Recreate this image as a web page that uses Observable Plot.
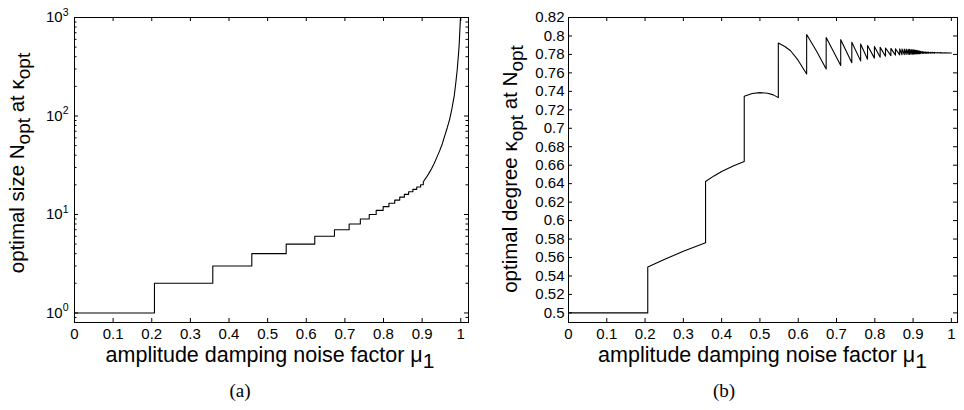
<!DOCTYPE html>
<html>
<head>
<meta charset="utf-8">
<script src="https://cdn.jsdelivr.net/npm/d3@7"></script>
<script src="https://cdn.jsdelivr.net/npm/@observablehq/plot@0.6"></script>
<style>
  html, body { margin: 0; padding: 0; background: #fff; }
  #wrap { position: relative; width: 964px; height: 410px; font-family: "Liberation Sans", Arial, sans-serif; }
  .panel { position: absolute; top: 0; width: 482px; height: 372px; }
  .cap { position: absolute; top: 381px; width: 482px; text-align: center; font-family: "Liberation Serif", "DejaVu Serif", serif; font-size: 19px; line-height: 19px; color: #000; }
</style>
</head>
<body>
<div id="wrap">
  <div class="panel" id="pa" style="left:0px"></div>
  <div class="panel" id="pb" style="left:482px"></div>
  <div class="cap" style="left:-1px">(a)</div>
  <div class="cap" style="left:483px">(b)</div>
</div>
<script>
// ---------- data ----------
const xTicks = [0, 0.1, 0.2, 0.3, 0.4, 0.5, 0.6, 0.7, 0.8, 0.9, 1];

// (a) optimal size N_opt : step levels and the mu where each level begins
const stepMu = [0, 0.207, 0.358, 0.459, 0.548, 0.622, 0.673, 0.711, 0.740, 0.763, 0.781, 0.799, 0.814, 0.829, 0.842, 0.854, 0.865, 0.876, 0.886, 0.896];
const stepN  = [1, 2, 3, 4, 5, 6, 7, 8, 9, 10, 11, 12, 13, 14, 15, 16, 17, 18, 19, 20];
// smooth tail of (a)
const tailMu = [0.903, 0.910, 0.917, 0.924, 0.931, 0.938, 0.945, 0.952, 0.958, 0.965, 0.971, 0.977, 0.983, 0.987, 0.991, 0.994, 0.996, 0.998, 0.9993];
const tailN  = [21.5, 23.5, 26, 29, 33, 38, 44, 52, 62, 76, 92, 118, 160, 215, 300, 420, 540, 800, 1000];
const logMajor = [1, 10, 100, 1000];
const logMajorExp = ["0", "1", "2", "3"];
const logMinor = [0.9, 2, 3, 4, 5, 6, 7, 8, 9, 20, 30, 40, 50, 60, 70, 80, 90, 200, 300, 400, 500, 600, 700, 800, 900];

// (b) optimal degree kappa_opt
const kMu = [
  0, 0.207, 0.207, 0.25, 0.30, 0.358, 0.358, 0.38, 0.40, 0.43, 0.459, 0.459, 0.48, 0.50, 0.52, 0.535, 0.548,
  0.548, 0.565, 0.58, 0.60, 0.622, 0.622, 0.648, 0.673, 0.673, 0.711, 0.711, 0.740, 0.740, 0.763, 0.763, 0.781,
  0.781, 0.799, 0.799, 0.814, 0.814, 0.828, 0.828, 0.842, 0.842, 0.854, 0.854, 0.865, 0.865,
  0.871, 0.871, 0.877, 0.877, 0.882, 0.882, 0.887, 0.887, 0.891, 0.891, 0.895, 0.895, 0.899, 0.899,
  0.902, 0.902, 0.905, 0.905, 0.908, 0.908, 0.911, 0.911, 0.914, 0.914, 0.917, 0.917, 0.920, 0.920,
  0.924, 0.924, 0.928, 0.928, 0.932, 0.932, 0.936, 0.936, 0.940, 0.940, 0.945, 0.945, 0.950, 0.950,
  0.956, 0.956, 0.963, 0.963, 0.970, 0.970, 0.980, 0.980, 1.0
];
const kVal = [
  0.5, 0.5, 0.5497, 0.5578, 0.5668, 0.576, 0.6424, 0.6484, 0.6532, 0.6592, 0.664, 0.7346, 0.7376, 0.7386, 0.7380, 0.7362, 0.7332,
  0.7923, 0.7886, 0.784, 0.7735, 0.7588, 0.8015, 0.7835, 0.7642, 0.7984, 0.768, 0.7960, 0.7710, 0.7932, 0.7730, 0.7912, 0.7748,
  0.7897, 0.7760, 0.7886, 0.7770, 0.7876, 0.7780, 0.7870, 0.7787, 0.7865, 0.7792, 0.7862, 0.7795, 0.7860,
  0.7797, 0.7859, 0.7798, 0.7858, 0.7799, 0.7857, 0.7800, 0.7856, 0.7800, 0.7855, 0.7801, 0.7853, 0.7802, 0.7851,
  0.7803, 0.7849, 0.7804, 0.7847, 0.7805, 0.7845, 0.7806, 0.7842, 0.7807, 0.7839, 0.7808, 0.7836, 0.7809, 0.7833,
  0.7810, 0.7831, 0.7811, 0.7829, 0.7812, 0.7827, 0.7812, 0.7826, 0.7813, 0.7825, 0.7813, 0.7823, 0.7814, 0.7822,
  0.7814, 0.7821, 0.7815, 0.7820, 0.7815, 0.7819, 0.7816, 0.7818, 0.7816
];
const kTicks = [0.5, 0.52, 0.54, 0.56, 0.58, 0.6, 0.62, 0.64, 0.66, 0.68, 0.7, 0.72, 0.74, 0.76, 0.78, 0.8, 0.82];

// ---------- build tables ----------
const nPts = [];
for (let i = 0; i < stepMu.length; i++) {
  const next = i + 1 < stepMu.length ? stepMu[i + 1] : tailMu[0];
  nPts.push({mu: stepMu[i], v: stepN[i]});
  nPts.push({mu: next, v: stepN[i]});
}
tailMu.forEach((m, i) => nPts.push({mu: m, v: tailN[i]}));
const kPts = kMu.map((m, i) => ({mu: m, v: kVal[i]}));

const FONT = "'Liberation Sans', Arial, Helvetica, sans-serif";
const W = 482, H = 372, MT = 17, MB = 50;
const fmt = d => String(+(+d).toFixed(2));

function frameTicks(xs, ys, yMinor, fh, fw) {
  const MAJ = 4, MIN = 2.5;
  const out = [
    Plot.tickX(xs, {x: d => d, insetTop: fh - MAJ, stroke: "black"}),
    Plot.tickX(xs, {x: d => d, insetBottom: fh - MAJ, stroke: "black"}),
    Plot.tickY(ys, {y: d => d, insetRight: fw - MAJ, stroke: "black"}),
    Plot.tickY(ys, {y: d => d, insetLeft: fw - MAJ, stroke: "black"})
  ];
  if (yMinor) {
    out.push(Plot.tickY(yMinor, {y: d => d, insetRight: fw - MIN, stroke: "black"}));
    out.push(Plot.tickY(yMinor, {y: d => d, insetLeft: fw - MIN, stroke: "black"}));
  }
  return out;
}

function richText(svg, x, y, rot, parts, fs, sfs, shift) {
  const t = d3.select(svg).append("text")
    .attr("transform", `translate(${x},${y}) rotate(${rot})`)
    .attr("text-anchor", "middle")
    .attr("font-family", FONT)
    .attr("font-size", fs)
    .attr("fill", "black")
    .style("white-space", "pre");
  let cur = 0;
  for (const p of parts) {
    const isSub = typeof p !== "string";
    const txt = isSub ? p.sub : p;
    const target = isSub ? shift : 0;
    t.append("tspan").attr("dy", target - cur).attr("font-size", isSub ? sfs : fs).text(txt);
    cur = target;
  }
}

// ---------- panel (a) ----------
const aML = 74, aMR = 14;
const aFW = W - aML - aMR, aFH = H - MT - MB;
const svgA = Plot.plot({
  width: W, height: H,
  marginLeft: aML, marginRight: aMR, marginTop: MT, marginBottom: MB,
  x: {domain: [0, 1.02]},
  y: {type: "log", domain: [0.8, 1000]},
  style: {fontFamily: FONT, fontSize: "15px", color: "black", background: "white"},
  marks: [
    Plot.line(nPts, {x: "mu", y: "v", stroke: "black", strokeWidth: 1.1, clip: true}),
    ...frameTicks(xTicks, logMajor, logMinor, aFH, aFW),
    Plot.frame({stroke: "black", strokeWidth: 1}),
    Plot.axisX({ticks: xTicks, tickSize: 0, tickPadding: 6, tickFormat: fmt, label: null}),
    Plot.axisY({ticks: logMajor, tickSize: 0, tickPadding: 6, label: null,
      tickFormat: d => "10^" + logMajorExp[logMajor.indexOf(d)]})
  ]
});
d3.select(svgA).selectAll('g[aria-label="y-axis tick label"] text').each(function () {
  const [b, e] = this.textContent.split("^");
  const s = d3.select(this);
  s.text(b);
  s.append("tspan").attr("dy", "-0.6em").attr("font-size", "10.5px").text(e);
});
richText(svgA, aML + aFW / 2 - 1, 362, 0, ["amplitude damping noise factor μ", {sub: "1"}], 21.5, 21, 6);
richText(svgA, 24, 163, -90, ["optimal size N", {sub: "opt"}, " at κ", {sub: "opt"}], 20.5, 19, 6);
document.getElementById("pa").appendChild(svgA);

// ---------- panel (b) ----------
const bML = 86, bMR = 7;
const bFW = W - bML - bMR, bFH = H - MT - MB;
const svgB = Plot.plot({
  width: W, height: H,
  marginLeft: bML, marginRight: bMR, marginTop: MT, marginBottom: MB,
  x: {domain: [0, 1.016]},
  y: {domain: [0.4896, 0.82]},
  style: {fontFamily: FONT, fontSize: "15px", color: "black", background: "white"},
  marks: [
    Plot.line(kPts, {x: "mu", y: "v", stroke: "black", strokeWidth: 1.1, clip: true}),
    ...frameTicks(xTicks, kTicks, null, bFH, bFW),
    Plot.frame({stroke: "black", strokeWidth: 1}),
    Plot.axisX({ticks: xTicks, tickSize: 0, tickPadding: 6, tickFormat: fmt, label: null}),
    Plot.axisY({ticks: kTicks, tickSize: 0, tickPadding: 4, tickFormat: fmt, label: null})
  ]
});
richText(svgB, bML + bFW / 2, 362, 0, ["amplitude damping noise factor μ", {sub: "1"}], 21.5, 21, 6);
richText(svgB, 35, 169, -90, ["optimal degree κ", {sub: "opt"}, " at N", {sub: "opt"}], 20.5, 19, 6);
document.getElementById("pb").appendChild(svgB);
</script>
</body>
</html>
